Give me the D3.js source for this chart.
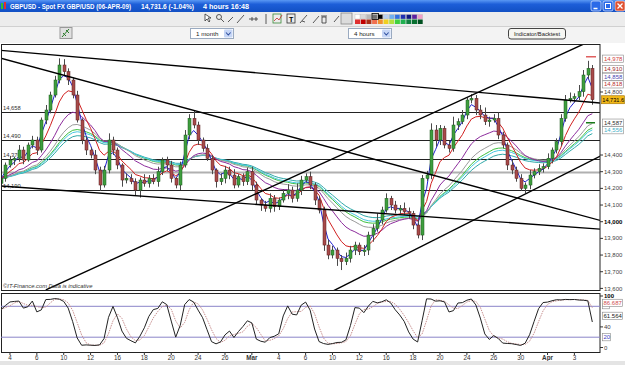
<!DOCTYPE html>
<html>
<head>
<meta charset="utf-8">
<script src="https://cdn.jsdelivr.net/npm/d3@7"></script>
<style>
  body { margin: 0; background: #fff; font-family: "Liberation Sans", Arial, sans-serif; }
  svg { display: block; }
</style>
</head>
<body>
<svg id="chart"></svg>
<script>
// closes, one bar per third of a trading day
const closes = [14260,14340,14370,14380,14430,14370,14460,14490,14430,14610,
  14670,14760,14850,14940,14900,14850,14760,14610,14490,14430,
  14400,14310,14220,14310,14490,14430,14340,14250,14260,14240,
  14190,14250,14230,14260,14240,14300,14370,14340,14260,14220,
  14340,14520,14620,14580,14490,14440,14380,14310,14240,14260,
  14310,14280,14220,14270,14240,14300,14220,14130,14100,14080,
  14140,14090,14130,14170,14190,14140,14190,14250,14270,14220,
  14130,14070,13860,13800,13830,13780,13760,13780,13830,13860,
  13820,13830,13920,13960,14010,14070,14140,14100,14070,14080,
  14060,14050,13980,13920,14260,14280,14550,14490,14560,14460,
  14440,14580,14600,14640,14730,14740,14670,14640,14600,14610,
  14620,14520,14460,14340,14310,14260,14200,14220,14280,14300,
  14320,14330,14380,14430,14480,14620,14730,14740,14750,14780,
  14880,14920,14731.6]
const firstOpen = 14230
// wick length above / below the body
const wickUp = [20,15,25,10,30,20,15,25,20,15,
  30,20,25,40,35,20,15,25,10,20,
  15,30,20,25,40,20,15,10,30,25,
  20,15,35,20,25,30,15,20,25,10,
  20,30,25,45,20,15,25,20,10,30,
  25,20,35,15,20,25,30,20,10,25,
  30,20,15,25,35,20,40,25,20,30,
  15,25,20,30,25,15,20,35,25,20,
  15,30,20,25,40,20,30,15,25,20,
  35,25,15,30,20,25,40,30,20,15,
  25,50,20,30,15,25,20,30,45,20,
  25,35,20,15,30,20,25,15,30,20,
  25,20,30,15,20,25,30,35,20,40,
  30,45,20]
const wickDn = [25,20,15,30,20,25,10,20,30,15,
  25,20,15,20,25,30,20,15,25,30,
  20,25,35,15,20,30,25,40,20,15,
  30,45,20,25,15,30,20,35,25,20,
  30,15,25,20,30,20,15,25,35,20,
  30,25,20,15,25,20,30,25,35,20,
  25,30,20,15,35,25,20,30,15,25,
  30,20,35,25,20,45,50,20,25,30,
  20,25,30,40,20,25,15,30,20,25,
  20,30,25,20,30,15,25,40,30,20,
  25,20,30,15,25,20,30,25,20,30,
  15,25,20,30,25,20,15,30,25,20,
  20,25,15,30,20,25,20,15,25,20,
  30,25,30]

const dayLabels = ['4','6','10','12','16','18','20','24','26','Mar','4','6','10','12','16','18','20','24','26','30','Apr','3']
const dayIndex = [0,2,4,6,8,10,12,14,16,18,20,22,24,26,28,30,32,34,36,38,40,42]
const boldDays = ['Mar','Apr']

const priceTicks = [13600,13700,13800,13900,14000,14100,14200,14300,14400]
const levels = [14658,14490,14376,14190]
const levelLabels = ['14,658','14,490','14,376','14,190']
const greyLevel = 14300

// trend lines as [bar, price] pairs
const trendLines = [
  [[-1,15030],[134,14711]],
  [[-1,14988],[134,14006]],
  [[-1,14216],[134,13955]],
  [[10,13591],[135,15126]],
  [[74,13583],[135,14410]]
]

const maPeriods = [3,7,15,22,28,32,26]
const maColors = ['#2020d0','#d02020','#8c2c9c','#9a9a9a','#48c8e0','#30a8a8','#40c040']

// right-hand value tags (the plain one is the 14,800 tick)
const tagValues = [14978,14910,14858,14818,14800,14731.6,14587,14556]
const tagTexts = ['14,978','14,910','14,858','14,818','14,800','14,731.6','14,587','14,556']
const tagColors = ['#d04040','#a02828','#4848b0','#b83030','#444','#000','#303030','#40b0c8']
const tagKinds = ['box','box','box','box','plain','last','box','box']

const oscTicks = [0,40,100]
const oscLevels = [20,80]
const oscTagValues = [86.687,61.564,20]
const oscTagTexts = ['86.687','61.564','20']
const oscTagColors = ['#d05050','#202020','#4040c0']

const paletteTop = ['#ffffff','#d8d8d8','#b8b8b8','#707070','#000000','#b8d0f0','#70b0f0','#3070e0','#2030b0','#101880','#6020a0','#f0a0c8']
const paletteBottom = ['#e03030','#c00000','#a83018','#f07050','#f09030','#f0d020','#b0e040','#40d040','#20b050','#108040','#087030','#005020']

// ---------------------------------------------------------------
const W = 625, H = 365
const svg = d3.select('#chart').attr('width', W).attr('height', H)
const font = '"Liberation Sans", Arial, sans-serif'

// window chrome
const defs = svg.append('defs')
const tg = defs.append('linearGradient').attr('id', 'title').attr('x1', 0).attr('y1', 0).attr('x2', 0).attr('y2', 1)
tg.append('stop').attr('offset', 0).attr('stop-color', '#5a98f4')
tg.append('stop').attr('offset', 0.35).attr('stop-color', '#1d5ed8')
tg.append('stop').attr('offset', 1).attr('stop-color', '#1250c4')

svg.append('rect').attr('width', W).attr('height', H).attr('fill', '#fff')
svg.append('rect').attr('y', 0).attr('width', W).attr('height', 12).attr('fill', 'url(#title)')
svg.append('rect').attr('x', 1).attr('y', 3).attr('width', 2).attr('height', 6).attr('fill', '#30c030')
svg.append('rect').attr('x', 4).attr('y', 2).attr('width', 2).attr('height', 7).attr('fill', '#e03030')
const titleText = [['GBPUSD - Spot FX GBP/USD (06-APR-09)', 10, 121], ['14,731.6 (-1.04%)', 141, 53], ['4 hours  16:48', 203, 46]]
titleText.forEach(t => svg.append('text').attr('x', t[1]).attr('y', 9).text(t[0])
  .attr('textLength', t[2]).attr('lengthAdjust', 'spacingAndGlyphs')
  .attr('fill', '#fff').attr('font-size', 6.8).attr('font-weight', 'bold').attr('font-family', font))
const winBtn = [[591, '#2a6ae8'], [603, '#2a6ae8'], [615, '#e05030']]
winBtn.forEach(b => svg.append('rect').attr('x', b[0]).attr('y', 1).attr('width', 10).attr('height', 10)
  .attr('rx', 2).attr('fill', b[1]).attr('stroke', '#fff').attr('stroke-width', 0.6))
svg.append('path').attr('d', 'M593.5,8.5h4').attr('stroke', '#fff').attr('stroke-width', 1.5)
svg.append('rect').attr('x', 605.5).attr('y', 3.5).attr('width', 5).attr('height', 5).attr('fill', 'none').attr('stroke', '#fff')
svg.append('path').attr('d', 'M617.5,3.5l5,5M622.5,3.5l-5,5').attr('stroke', '#fff').attr('stroke-width', 1.3)

// toolbars
svg.append('rect').attr('y', 12).attr('width', W).attr('height', 14).attr('fill', '#ececec')
svg.append('rect').attr('y', 26).attr('width', W).attr('height', 17).attr('fill', '#f3f3f3')
svg.append('line').attr('x1', 0).attr('x2', W).attr('y1', 26.5).attr('y2', 26.5).attr('stroke', '#d0d0d0')
const tb = svg.append('g').attr('stroke', '#333').attr('fill', 'none').attr('stroke-width', 0.8)
tb.append('path').attr('d', 'M205,14l0,7l2,-2l2,3l1,-1l-2,-3l3,0z').attr('fill', '#fff')
tb.append('circle').attr('cx', 219).attr('cy', 17).attr('r', 2.5)
tb.append('path').attr('d', 'M221,19l3,3M228,22l5,-5M237,23l7,-8M249,19h9M252,17v4M256,17v4M266,14v10')
tb.append('rect').attr('x', 273).attr('y', 14).attr('width', 8).attr('height', 9).attr('stroke', '#3a8a3a')
tb.append('path').attr('d', 'M274,21l3,-3l2,2l3,-5').attr('stroke', '#c03030')
tb.append('rect').attr('x', 287).attr('y', 14).attr('width', 8).attr('height', 9)
svg.append('text').attr('x', 289).attr('y', 22).text('T').attr('font-size', 7).attr('font-weight', 'bold').attr('font-family', font)
tb.append('path').attr('d', 'M300,23l7,-8M302,21l3,1M313,23l6,-7M322,17v6h4v-6zM321,16h6M334,22l5,-6')
tb.append('rect').attr('x', 341).attr('y', 13).attr('width', 11).attr('height', 11).attr('fill', '#dcdcdc').attr('stroke', '#888')
paletteTop.forEach((c, i) => svg.append('rect').attr('x', 355 + i * 5.7).attr('y', 14.5).attr('width', 5).attr('height', 4.5).attr('fill', c).attr('stroke', '#bbb').attr('stroke-width', 0.4))
paletteBottom.forEach((c, i) => svg.append('rect').attr('x', 355 + i * 5.7).attr('y', 19.5).attr('width', 5).attr('height', 4.5).attr('fill', c))
svg.append('rect').attr('x', 372).attr('y', 13.5).attr('width', 6.5).attr('height', 6).attr('fill', 'none').attr('stroke', '#000').attr('stroke-width', 0.8)

svg.append('rect').attr('x', 60).attr('y', 27.5).attr('width', 12).attr('height', 11).attr('fill', '#e0e0e0').attr('stroke', '#999')
svg.append('path').attr('d', 'M62,37l7,-8M63,33l3,3M66,30l3,3').attr('stroke', '#2a7a2a').attr('fill', 'none')
const drops = [[190, '1 month'], [348, '4 hours']]
drops.forEach(d => {
  svg.append('rect').attr('x', d[0] + 0.5).attr('y', 28.5).attr('width', 43).attr('height', 10).attr('fill', '#fff').attr('stroke', '#9aaac0')
  svg.append('text').attr('x', d[0] + 6).attr('y', 36).text(d[1]).attr('font-size', 6.2).attr('font-family', font).attr('fill', '#222')
  svg.append('rect').attr('x', d[0] + 34).attr('y', 29.5).attr('width', 8.5).attr('height', 8).attr('fill', '#c6d6f6').attr('rx', 1)
  svg.append('path').attr('d', `M${d[0] + 36},32.5l2.3,2.5l2.3,-2.5`).attr('stroke', '#3050a0').attr('fill', 'none').attr('stroke-width', 1.1)
})
svg.append('rect').attr('x', 508.5).attr('y', 28.5).attr('width', 57).attr('height', 10.5).attr('rx', 2.5).attr('fill', '#f6f6f2').attr('stroke', '#444')
svg.append('text').attr('x', 537).attr('y', 36.2).text('Indicator/Backtest').attr('text-anchor', 'middle')
  .attr('font-size', 5.8).attr('font-family', font).attr('fill', '#222')

// ---------------------------------------------------------------
// scales
const plotL = 1, plotR = 600, plotT = 44, plotB = 290
const oscT = 293, oscB = 352
const x = d3.scaleLinear().domain([0, 133]).range([1, 596.8])
const y = d3.scaleLinear().domain([13600, 15000]).range([288.4, 55])
const yo = d3.scaleLinear().domain([0, 100]).range([347.5, 296])

const bars = closes.map((c, i) => {
  const o = i ? closes[i - 1] : firstOpen
  return { i, o, c, h: Math.max(o, c) + wickUp[i], l: Math.min(o, c) - wickDn[i] }
})

defs.append('clipPath').attr('id', 'mainClip').append('rect')
  .attr('x', plotL).attr('y', plotT + 0.5).attr('width', plotR - plotL).attr('height', plotB - plotT - 0.5)
defs.append('clipPath').attr('id', 'oscClip').append('rect')
  .attr('x', plotL).attr('y', oscT).attr('width', plotR - plotL).attr('height', oscB - oscT)

// main panel
const main = svg.append('g').attr('clip-path', 'url(#mainClip)')

main.selectAll('line.lvl').data(levels).join('line').attr('class', 'lvl')
  .attr('x1', plotL).attr('x2', plotR).attr('y1', d => Math.round(y(d)) + 0.5).attr('y2', d => Math.round(y(d)) + 0.5)
  .attr('stroke', '#222').attr('stroke-width', 1)
main.append('line').attr('x1', plotL).attr('x2', plotR)
  .attr('y1', Math.round(y(greyLevel)) + 0.5).attr('y2', Math.round(y(greyLevel)) + 0.5)
  .attr('stroke', '#b0b0b0').attr('stroke-width', 2)
main.selectAll('text.lvl').data(levels).join('text').attr('class', 'lvl')
  .attr('x', 3).attr('y', d => y(d) - 2).text((d, i) => levelLabels[i])
  .attr('font-size', 5.8).attr('font-family', font).attr('fill', '#333')

// moving averages
const ema = (vals, n) => { const a = 2 / (n + 1); let e = vals[0]; return vals.map(v => (e = e + a * (v - e))) }
const maLine = d3.line().x((d, i) => x(i)).y(d => y(d))
maPeriods.slice().reverse().forEach((p, j) => {
  const k = maPeriods.length - 1 - j
  main.append('path').attr('d', maLine(ema(closes, p))).attr('fill', 'none')
    .attr('stroke', maColors[k]).attr('stroke-width', 1)
})

// candles
const cg = main.append('g')
cg.selectAll('line').data(bars).join('line')
  .attr('x1', d => Math.round(x(d.i)) + 0.5).attr('x2', d => Math.round(x(d.i)) + 0.5)
  .attr('y1', d => y(d.h)).attr('y2', d => y(d.l)).attr('stroke', '#4a4a4a').attr('stroke-width', 1)
cg.selectAll('rect').data(bars).join('rect')
  .attr('x', d => Math.round(x(d.i)) - 1).attr('width', 3)
  .attr('y', d => y(Math.max(d.o, d.c))).attr('height', d => Math.max(1, Math.abs(y(d.o) - y(d.c))))
  .attr('fill', d => d.c >= d.o ? '#3e9e3e' : '#a84a4a')
  .attr('stroke', d => d.c >= d.o ? '#1e5a1e' : '#5a2020').attr('stroke-width', 0.5)

// trend lines
const tl = d3.line().x(d => x(d[0])).y(d => y(d[1]))
main.selectAll('path.trend').data(trendLines).join('path').attr('class', 'trend')
  .attr('d', tl).attr('stroke', '#000').attr('stroke-width', 1.4).attr('fill', 'none')

// indicator end markers
main.append('line').attr('x1', 586).attr('x2', 596).attr('y1', y(tagValues[0]) - 2).attr('y2', y(tagValues[0]) - 2).attr('stroke', '#e06060').attr('stroke-width', 1.5)
main.append('line').attr('x1', 586).attr('x2', 595).attr('y1', y(14594)).attr('y2', y(14594)).attr('stroke', '#1a7a1a').attr('stroke-width', 1.5)

svg.append('text').attr('x', 3).attr('y', 288).text('©IT-Finance.com  Data is indicative')
  .attr('font-size', 5.8).attr('font-style', 'italic').attr('font-family', font).attr('fill', '#333')

// frames
svg.append('rect').attr('x', plotL + 0.5).attr('y', plotT + 0.5).attr('width', plotR - plotL - 0.5).attr('height', plotB - plotT)
  .attr('fill', 'none').attr('stroke', '#222').attr('stroke-width', 1)
svg.append('rect').attr('x', plotL + 0.5).attr('y', oscT + 0.5).attr('width', plotR - plotL - 0.5).attr('height', oscB - oscT)
  .attr('fill', 'none').attr('stroke', '#222').attr('stroke-width', 1)

// right price axis
const ax = svg.append('g').attr('font-family', font).attr('font-size', 6).attr('fill', '#333')
priceTicks.forEach(t => {
  ax.append('line').attr('x1', plotR).attr('x2', plotR + 3).attr('y1', y(t)).attr('y2', y(t)).attr('stroke', '#333')
  ax.append('text').attr('x', plotR + 4).attr('y', y(t) + 2.1).text(d3.format(',')(t))
    .attr('font-weight', t === 14000 ? 'bold' : 'normal').attr('fill', t === 14000 ? '#000' : '#444')
})
// spread the tags so that they do not sit on top of each other
const tagY = tagValues.map(v => y(v))
for (let it = 0; it < 40; it++) {
  for (let i = 1; i < tagY.length; i++) {
    const gap = tagY[i] - tagY[i - 1]
    if (gap < 7.6) { const p = (7.6 - gap) / 2; tagY[i - 1] -= p; tagY[i] += p }
  }
}
tagValues.forEach((v, i) => {
  const ty = tagY[i]
  if (tagKinds[i] === 'box') {
    ax.append('rect').attr('x', plotR + 2.5).attr('y', ty - 3.6).attr('width', 21).attr('height', 7.2)
      .attr('fill', '#fff').attr('stroke', '#888').attr('stroke-width', 0.6)
  } else if (tagKinds[i] === 'last') {
    ax.append('rect').attr('x', plotR + 1.5).attr('y', ty - 4).attr('width', 23).attr('height', 8)
      .attr('fill', '#f2b818').attr('stroke', '#a07000').attr('stroke-width', 0.6)
  } else {
    ax.append('line').attr('x1', plotR).attr('x2', plotR + 3).attr('y1', ty).attr('y2', ty).attr('stroke', '#333')
  }
  ax.append('text').attr('x', tagKinds[i] === 'last' ? plotR + 2.3 : plotR + 4).attr('y', ty + 2.1).text(tagTexts[i])
    .attr('fill', tagColors[i]).attr('font-size', tagKinds[i] === 'last' ? 5.6 : 6)
})

// oscillator: stochastic
const n = 6
const rawK = bars.map((b, i) => {
  const w = bars.slice(Math.max(0, i - n + 1), i + 1)
  const lo = d3.min(w, d => d.l), hi = d3.max(w, d => d.h)
  return hi > lo ? (b.c - lo) / (hi - lo) * 100 : 50
})
const sma = (vals, m) => vals.map((v, i) => d3.mean(vals.slice(Math.max(0, i - m + 1), i + 1)))
const slowK = sma(rawK, 2)
const slowD = sma(slowK, 3)
const osc = svg.append('g').attr('clip-path', 'url(#oscClip)')
osc.selectAll('line').data(oscLevels).join('line')
  .attr('x1', plotL).attr('x2', plotR).attr('y1', d => yo(d)).attr('y2', d => yo(d))
  .attr('stroke', '#8a84c8').attr('stroke-width', 1)
const ol = d3.line().x((d, i) => x(i)).y(d => yo(d))
osc.append('path').attr('d', ol(slowD)).attr('fill', 'none').attr('stroke', '#c89090').attr('stroke-width', 1).attr('stroke-dasharray', '1.5,1')
osc.append('path').attr('d', ol(slowK)).attr('fill', 'none').attr('stroke', '#222').attr('stroke-width', 1)

oscTicks.forEach(t => {
  ax.append('line').attr('x1', plotR).attr('x2', plotR + 3).attr('y1', yo(t)).attr('y2', yo(t)).attr('stroke', '#333')
  ax.append('text').attr('x', plotR + 4).attr('y', yo(t) + 2.1).text(t)
    .attr('font-weight', t === 100 ? 'bold' : 'normal').attr('fill', t === 100 ? '#000' : '#444')
})
ax.append('rect').attr('x', plotR + 2.5).attr('y', yo(80) - 2.5).attr('width', 7).attr('height', 5).attr('fill', '#fff').attr('stroke', '#888').attr('stroke-width', 0.6)
oscTagValues.forEach((v, i) => {
  const w = oscTagTexts[i].length > 2 ? 20 : 8
  ax.append('rect').attr('x', plotR + 2.5).attr('y', yo(v) - 3.6).attr('width', w).attr('height', 7.2)
    .attr('fill', '#fff').attr('stroke', '#888').attr('stroke-width', 0.6)
  ax.append('text').attr('x', plotR + 3.5).attr('y', yo(v) + 2.1).text(oscTagTexts[i]).attr('fill', oscTagColors[i])
})

// date axis
const dg = svg.append('g').attr('font-family', font).attr('font-size', 6.3).attr('fill', '#333')
dayIndex.forEach((d, i) => {
  const px = x(3 * d + 2)
  dg.append('line').attr('x1', px).attr('x2', px).attr('y1', oscB).attr('y2', oscB + 3).attr('stroke', '#333')
  dg.append('text').attr('x', px).attr('y', 359.5).attr('text-anchor', 'middle').text(dayLabels[i])
    .attr('font-weight', boldDays.includes(dayLabels[i]) ? 'bold' : 'normal')
})

// status strip
svg.append('rect').attr('y', 361).attr('width', W).attr('height', 4).attr('fill', '#e4e4e4')
</script>
</body>
</html>
